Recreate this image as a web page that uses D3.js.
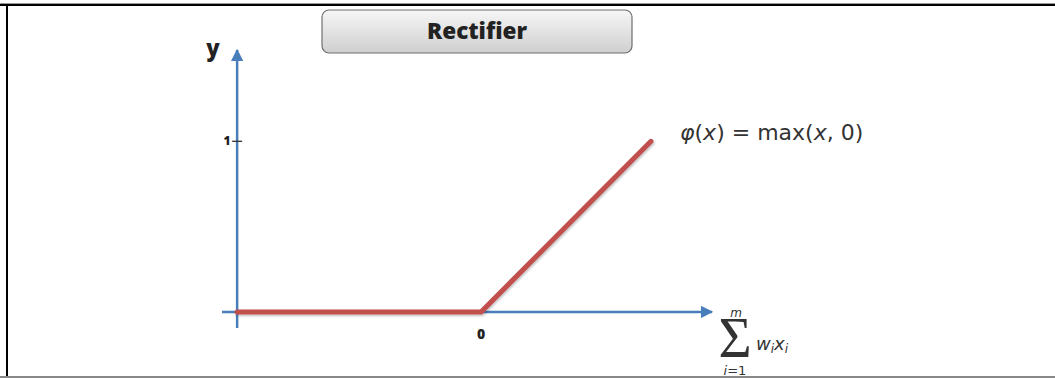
<!DOCTYPE html>
<html><head><meta charset="utf-8">
<script src="https://cdn.jsdelivr.net/npm/d3@7"></script>
<style>body{margin:0;background:#fff}svg{display:block}</style>
</head><body>
<script>
const xValues = [-1.435, 0, 1];
const yValues = [0, 0, 1];
const yTickValues = [1];
const xTickValues = [0];
const title = "Rectifier";

const W = 1055, H = 378;
const svg = d3.select("body").append("svg").attr("width", W).attr("height", H);
const defs = svg.append("defs");
const g = defs.append("linearGradient").attr("id","btn").attr("x1",0).attr("y1",0).attr("x2",0).attr("y2",1);
g.append("stop").attr("offset","0%").attr("stop-color","#f6f6f6");
g.append("stop").attr("offset","100%").attr("stop-color","#cfcfcf");
defs.append("marker").attr("id","arr").attr("viewBox","0 0 10 10").attr("refX",9).attr("refY",5)
  .attr("markerWidth",5).attr("markerHeight",5).attr("orient","auto")
  .append("path").attr("d","M0,0L10,5L0,10Z").attr("fill","#4a7ebb");
const f = defs.append("filter").attr("id","sh").attr("x","-5%").attr("y","-20%").attr("width","110%").attr("height","140%");
f.append("feDropShadow").attr("dx",1).attr("dy",1.5).attr("stdDeviation",1).attr("flood-color","#000").attr("flood-opacity",0.25);

// frame
svg.append("line").attr("x1",0).attr("x2",W).attr("y1",3.5).attr("y2",3.5).attr("stroke","#999").attr("stroke-width",1);
svg.append("line").attr("x1",0).attr("x2",W).attr("y1",5).attr("y2",5).attr("stroke","#000").attr("stroke-width",2);
svg.append("line").attr("x1",7).attr("x2",7).attr("y1",4).attr("y2",H).attr("stroke","#000").attr("stroke-width",2);
svg.append("line").attr("x1",0).attr("x2",W).attr("y1",377).attr("y2",377).attr("stroke","#888").attr("stroke-width",2);

const x = d3.scaleLinear().domain([-1.524, 1.359]).range([222, 712]);
const y = d3.scaleLinear().domain([-0.094, 1.535]).range([328, 50]);

// title button
svg.append("rect").attr("x",322).attr("y",10).attr("width",310).attr("height",43).attr("rx",7)
  .attr("fill","url(#btn)").attr("stroke","#6f6f6f").attr("stroke-width",1.2);
svg.append("text").attr("x",477).attr("y",39).attr("text-anchor","middle")
  .attr("font-family","Open Sans, sans-serif").attr("font-weight",800).attr("font-size",22.5).attr("fill","#222").text(title);

// axes
svg.append("line").attr("x1",x(-1.524)).attr("x2",x(1.359)).attr("y1",y(0)).attr("y2",y(0))
  .attr("stroke","#4a7ebb").attr("stroke-width",2.5).attr("marker-end","url(#arr)");
svg.append("line").attr("x1",x(xValues[0])).attr("x2",x(xValues[0])).attr("y1",y(-0.094)).attr("y2",y(1.535))
  .attr("stroke","#4a7ebb").attr("stroke-width",2.5).attr("marker-end","url(#arr)");

// ticks
yTickValues.forEach(v=>{
  svg.append("line").attr("x1",x(xValues[0])-5).attr("x2",x(xValues[0])+5).attr("y1",y(v)).attr("y2",y(v)).attr("stroke","#333").attr("stroke-width",1.3);
  svg.append("text").attr("x",x(xValues[0])-10).attr("y",y(v)+4).attr("text-anchor","middle")
    .attr("font-family","Open Sans, sans-serif").attr("font-weight",800).attr("font-size",12).attr("fill","#222").text(v);
});
xTickValues.forEach(v=>{
  svg.append("text").attr("x",x(v)).attr("y",y(0)+27).attr("text-anchor","middle")
    .attr("font-family","Open Sans, sans-serif").attr("font-weight",800).attr("font-size",14).attr("fill","#222").text(v);
});
svg.append("text").attr("x",213).attr("y",56).attr("text-anchor","middle")
  .attr("font-family","Open Sans, sans-serif").attr("font-weight",800).attr("font-size",22).attr("fill","#222").text("y");

// line
const pts = xValues.map((v,i)=>[v,yValues[i]]);
svg.append("path").datum(pts).attr("d", d3.line().x(d=>x(d[0])).y(d=>y(d[1])))
  .attr("fill","none").attr("stroke","#c0504d").attr("stroke-width",5).attr("stroke-linejoin","miter").attr("stroke-linecap","round")
  .attr("filter","url(#sh)");

// formula
const ft = svg.append("text").attr("x",680).attr("y",140).attr("font-family","DejaVu Sans, sans-serif").attr("font-size",22).attr("fill","#333");
ft.append("tspan").attr("font-style","italic").text("φ");
ft.append("tspan").text("(");
ft.append("tspan").attr("font-style","italic").text("x");
ft.append("tspan").text(") = max(");
ft.append("tspan").attr("font-style","italic").text("x");
ft.append("tspan").text(", 0)");

// sum label
svg.append("text").attr("x",736).attr("y",317).attr("text-anchor","middle").attr("font-family","DejaVu Sans, sans-serif")
  .attr("font-style","italic").attr("font-size",12).attr("fill","#333").text("m");
svg.append("text").attr("x",735).attr("y",357).attr("text-anchor","middle").attr("font-family","Liberation Serif, serif")
  .attr("font-size",57).attr("fill","#333").text("Σ");
const il = svg.append("text").attr("x",735).attr("y",375).attr("text-anchor","middle").attr("font-family","DejaVu Sans, sans-serif")
  .attr("font-size",13).attr("fill","#333");
il.append("tspan").attr("font-style","italic").text("i");
il.append("tspan").text("=1");
const wx = svg.append("text").attr("x",756).attr("y",350).attr("font-family","DejaVu Sans, sans-serif").attr("font-style","italic").attr("font-size",18).attr("fill","#333");
wx.append("tspan").text("w");
wx.append("tspan").attr("font-size",12).attr("dy",3).text("i");
wx.append("tspan").attr("dy",-3).text("x");
wx.append("tspan").attr("font-size",12).attr("dy",3).text("i");
</script>
</body></html>
